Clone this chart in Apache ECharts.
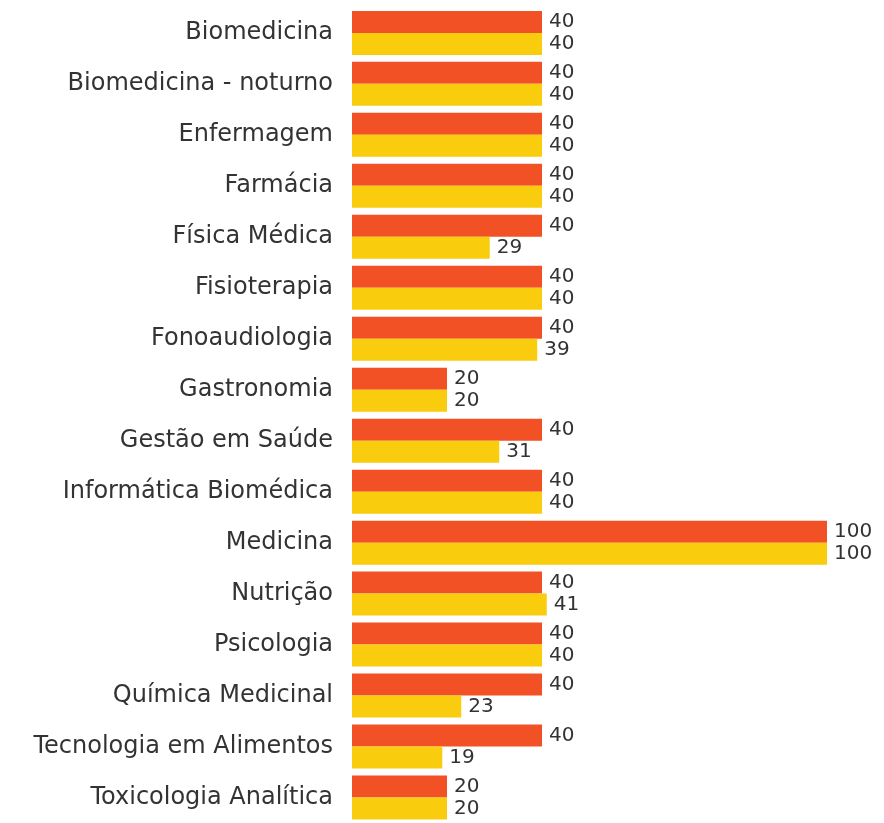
<!DOCTYPE html>
<html>
<head>
<meta charset="utf-8">
<script src="https://cdn.jsdelivr.net/npm/echarts@6/dist/echarts.min.js"></script>
<style>
  html, body { margin: 0; padding: 0; background: #fff; }
  #chart { width: 884px; height: 823px; }
</style>
</head>
<body>
<div id="chart"></div>
<script>
// cursos
const categories = [
  'Biomedicina', 'Biomedicina - noturno', 'Enfermagem', 'Farmácia',
  'Física Médica', 'Fisioterapia', 'Fonoaudiologia', 'Gastronomia',
  'Gestão em Saúde', 'Informática Biomédica', 'Medicina', 'Nutrição',
  'Psicologia', 'Química Medicinal', 'Tecnologia em Alimentos', 'Toxicologia Analítica'
];
// vagas (barra laranja) e matriculados (barra amarela)
const seriesA = [40, 40, 40, 40, 40, 40, 40, 20, 40, 40, 100, 40, 40, 40, 40, 20];
const seriesB = [40, 40, 40, 40, 29, 40, 39, 20, 31, 40, 100, 41, 40, 23, 19, 20];

const chart = echarts.init(document.getElementById('chart'));

const labelStyle = {
  show: true,
  position: 'right',
  distance: 7,
  color: '#333',
  fontSize: 20,
  fontFamily: 'DejaVu Sans'
};

chart.setOption({
  animation: false,
  grid: { left: 352, top: 7.4, width: 522.5, height: 819.6 },
  xAxis: {
    type: 'value',
    min: 0,
    max: 110,
    show: false
  },
  yAxis: {
    type: 'category',
    data: categories,
    inverse: true,
    axisLine: { show: false },
    axisTick: { show: false },
    axisLabel: {
      color: '#333',
      fontSize: 24,
      fontFamily: 'DejaVu Sans',
      margin: 19
    }
  },
  series: [
    {
      name: 'A',
      type: 'bar',
      data: seriesA,
      barWidth: 22,
      barGap: '0%',
      itemStyle: { color: '#F15124' },
      label: labelStyle
    },
    {
      name: 'B',
      type: 'bar',
      data: seriesB,
      barWidth: 22,
      barGap: '0%',
      itemStyle: { color: '#F9CC0E' },
      label: labelStyle
    }
  ]
});
</script>
</body>
</html>
